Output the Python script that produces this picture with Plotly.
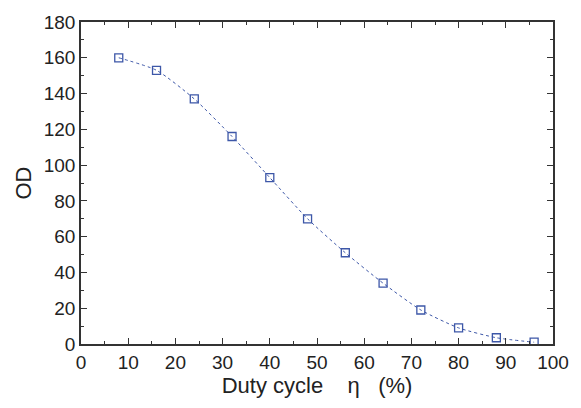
import plotly.graph_objects as go

duty_cycle = [8, 16, 24, 32, 40, 48, 56, 64, 72, 80, 88, 96]
od = [160, 153, 137, 116, 93, 70, 51, 34, 19, 9, 3.5, 1]

FONT = "Liberation Sans, Arial, sans-serif"
BLUE = "#3d57a8"

fig = go.Figure()
fig.add_trace(go.Scatter(
    x=duty_cycle, y=od, mode="lines+markers",
    line=dict(color=BLUE, width=1, dash="3px,3px", shape="spline", smoothing=0.6),
    marker=dict(symbol="square-open", size=8, color=BLUE, line=dict(width=1.3)),
    showlegend=False,
))

axis_common = dict(
    showgrid=False, zeroline=False, showline=True, linecolor="#333333", linewidth=1.5,
    mirror="allticks", ticks="inside", ticklen=6, tickwidth=1.2, tickcolor="#333333",
    tickfont=dict(family=FONT, size=19, color="#222222"),
)

fig.update_xaxes(
    range=[0, 100], tickmode="linear", tick0=0, dtick=10,
    minor=dict(ticks="inside", ticklen=3, tickwidth=1, tickcolor="#333333", dtick=5),
    title=dict(text="\u00a0\u00a0\u00a0\u00a0Duty cycle\u00a0\u00a0\u00a0 η \u00a0\u00a0(%)", font=dict(family=FONT, size=22, color="#222222"), standoff=5),
    **axis_common,
)
fig.update_yaxes(
    range=[0, 180], tickmode="linear", tick0=0, dtick=20,
    minor=dict(ticks="inside", ticklen=3, tickwidth=1, tickcolor="#333333", dtick=10),
    title=dict(text="OD", font=dict(family=FONT, size=22, color="#222222"), standoff=6),
    **axis_common,
)

fig.update_layout(
    width=581, height=408,
    margin=dict(l=81, r=25, t=14, b=64),
    paper_bgcolor="white", plot_bgcolor="white",
)

fig.write_html("out.html")
